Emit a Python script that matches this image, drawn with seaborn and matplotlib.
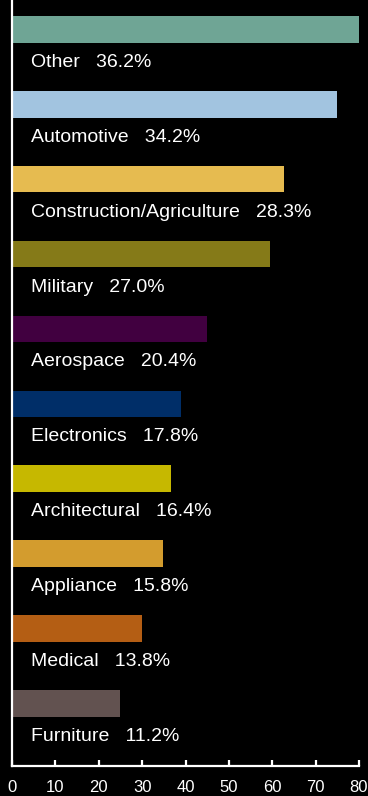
import matplotlib
matplotlib.use("Agg")
import matplotlib.pyplot as plt
import seaborn as sns
from matplotlib import font_manager

categories = ["Other", "Automotive", "Construction/Agriculture", "Military", "Aerospace",
              "Electronics", "Architectural", "Appliance", "Medical", "Furniture"]
bar_values = [80, 75, 62.7, 59.5, 45, 39, 36.6, 34.8, 30, 24.8]
share_pct = [36.2, 34.2, 28.3, 27.0, 20.4, 17.8, 16.4, 15.8, 13.8, 11.2]
colors = ["#6FA595", "#A2C4E0", "#E6BB50", "#857A18", "#410040",
          "#002E68", "#C6B800", "#D39C2E", "#B45E14", "#625250"]
x_ticks = [0, 10, 20, 30, 40, 50, 60, 70, 80]

sns.set_theme(style="white")
installed = {f.name for f in font_manager.fontManager.ttflist}
narrow = "Liberation Sans Narrow" in installed
plt.rcParams["font.family"] = ["Liberation Sans Narrow" if narrow else "Liberation Sans", "DejaVu Sans"]
label_size = 16 if narrow else 14
tick_size = 14 if narrow else 12

fig = plt.figure(figsize=(3.68, 7.96), dpi=100, facecolor="black")
ax = fig.add_axes([12 / 368, 30 / 796, 347 / 368, 766 / 796])
ax.set_facecolor("black")

sns.barplot(x=bar_values, y=categories, hue=categories, palette=colors,
            orient="h", width=0.356, legend=False, saturation=1,
            linewidth=0, edgecolor="none", ax=ax)

for i, (name, pct) in enumerate(zip(categories, share_pct)):
    ax.text(4.4, i + 0.44, f"{name}   {pct:.1f}%", color="white", fontsize=label_size,
            va="center", ha="left")

ax.set_xlim(0, 80)
ax.set_ylim(9.835, -0.392)
ax.set_xticks(x_ticks)
ax.set_xticklabels([str(t) for t in x_ticks], color="white", fontsize=tick_size)
ax.set_yticks([])
ax.set_xlabel("")
ax.set_ylabel("")
ax.tick_params(axis="x", direction="in", length=4, width=1.6, color="white", pad=10, bottom=True)

for side in ["top", "right"]:
    ax.spines[side].set_visible(False)
for side in ["left", "bottom"]:
    ax.spines[side].set_color("white")
    ax.spines[side].set_linewidth(1.6)
    ax.spines[side].set_zorder(5)

fig.savefig("out.png", dpi=100, facecolor="black")
